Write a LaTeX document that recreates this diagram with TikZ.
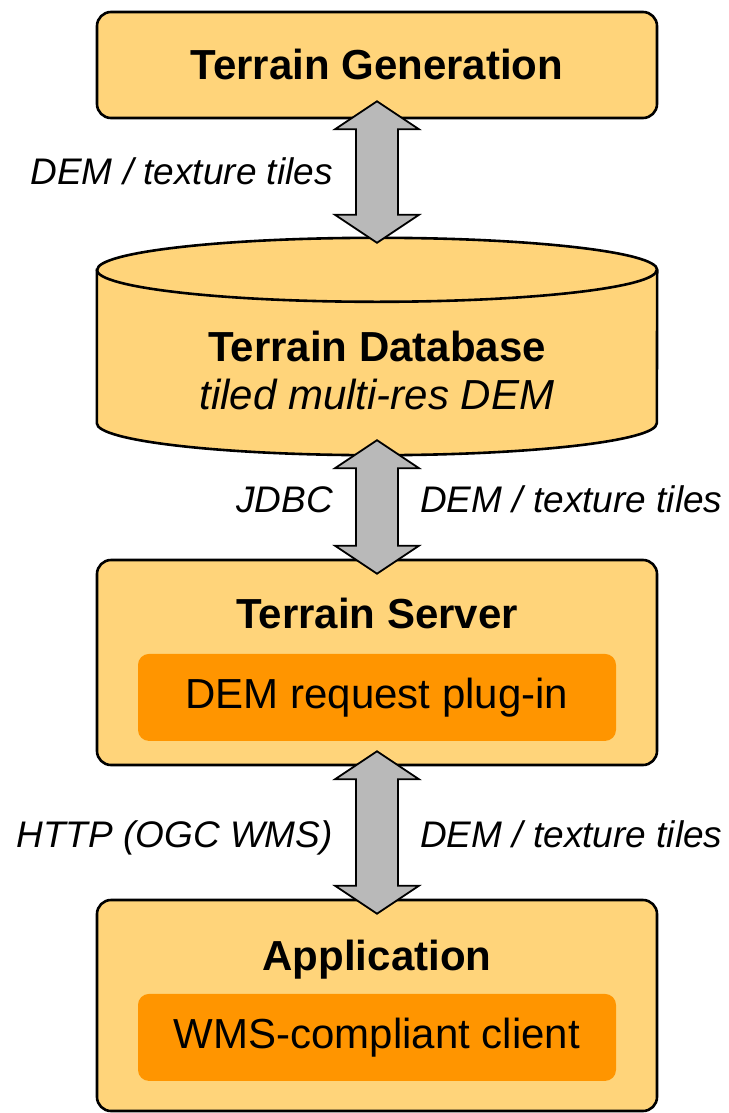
\documentclass[tikz,border=0pt]{standalone}
\usepackage{fontspec}
\setmainfont{Liberation Sans}
\usetikzlibrary{positioning, calc}

\definecolor{boxyellow}{RGB}{255,212,122}
\definecolor{plugorange}{RGB}{255,149,0}
\definecolor{arrowgray}{RGB}{185,185,185}

% fat double arrow between two points (tip to tip)
\newcommand{\tilearrow}[2]{%
  \draw[arrowbody] let \p1=#1, \p2=#2 in
    (\x1,\y1) -- (\x1+42pt,\y1-28pt) -- (\x1+21pt,\y1-28pt) -- (\x1+21pt,\y2+28pt)
    -- (\x1+42pt,\y2+28pt) -- (\x1,\y2) -- (\x1-42pt,\y2+28pt) -- (\x1-21pt,\y2+28pt)
    -- (\x1-21pt,\y1-28pt) -- (\x1-42pt,\y1-28pt) -- cycle;}

\begin{document}
\begin{tikzpicture}
	[x=1pt, y=1pt,
	 box/.style={draw, line width=2.6pt, rounded corners=14pt, fill=boxyellow, minimum width=560pt},
	 plugbox/.style={fill=plugorange, rounded corners=11pt, minimum width=478pt, minimum height=87pt,
	   font=\fontsize{42}{48}\selectfont},
	 title/.style={font=\fontsize{42}{48}\selectfont\bfseries, inner sep=0pt, text height=38pt, text depth=9pt},
	 lbl/.style={font=\fontsize{37}{44}\selectfont\itshape, inner sep=0pt, text height=27pt, text depth=8pt},
	 arrowbody/.style={draw, line width=1.8pt, fill=arrowgray, line join=miter}]

	\useasboundingbox (0,0) rectangle (728,-1113);

	% boxes
	\node[box, title, minimum height=106pt] (gen) at (377,-65) {Terrain Generation};

	\node[minimum width=560pt, minimum height=217pt, inner sep=0pt] (db) at (377,-346.5) {};
	\draw[line width=2.6pt, fill=boxyellow]
	  ($(db.north west)+(0,-32)$) -- ($(db.south west)+(0,32)$)
	  arc[start angle=180, end angle=360, x radius=280, y radius=32]
	  -- ($(db.north east)+(0,-32)$)
	  arc[start angle=0, end angle=180, x radius=280, y radius=32] -- cycle;
	\draw[line width=2.6pt] ($(db.north west)+(0,-32)$)
	  arc[start angle=180, end angle=360, x radius=280, y radius=32];
	\node[align=center, inner sep=0pt, font=\fontsize{42}{48}\selectfont] (dbtext) at ($(db.center)+(0,-24)$)
	  {\textbf{Terrain Database}\\\textit{tiled multi-res DEM}};

	\node[box, minimum height=205pt] (srv) at (377,-662.5) {};
	\node[title] (srvtitle) at ($(srv.north)+(0,-55)$) {Terrain Server};
	\node[plugbox, below=95pt of srv.north] (plugin) {DEM request plug-in};

	\node[box, minimum height=211pt] (app) at (377,-1005.5) {};
	\node[title] (apptitle) at ($(app.north)+(0,-57)$) {Application};
	\node[plugbox, below=95pt of app.north] (client) {WMS-compliant client};

	% arrows
	\tilearrow{([yshift=18pt]gen.south)}{([yshift=-5pt]db.north)}
	\tilearrow{([yshift=15pt]db.south)}{([yshift=-15pt]srv.north)}
	\tilearrow{([yshift=15pt]srv.south)}{([yshift=-15pt]app.north)}

	% labels
	\node[lbl, anchor=east] (genlbl) at (333,-175) {DEM / texture tiles};
	\node[lbl, anchor=east] (jdbc) at (333,-503) {JDBC};
	\node[lbl, anchor=west] (dblbl) at (420,-503) {DEM / texture tiles};
	\node[lbl, anchor=east] (http) at (333,-838) {HTTP (OGC WMS)};
	\node[lbl, anchor=west] (srvlbl) at (420,-838) {DEM / texture tiles};
\end{tikzpicture}
\end{document}
